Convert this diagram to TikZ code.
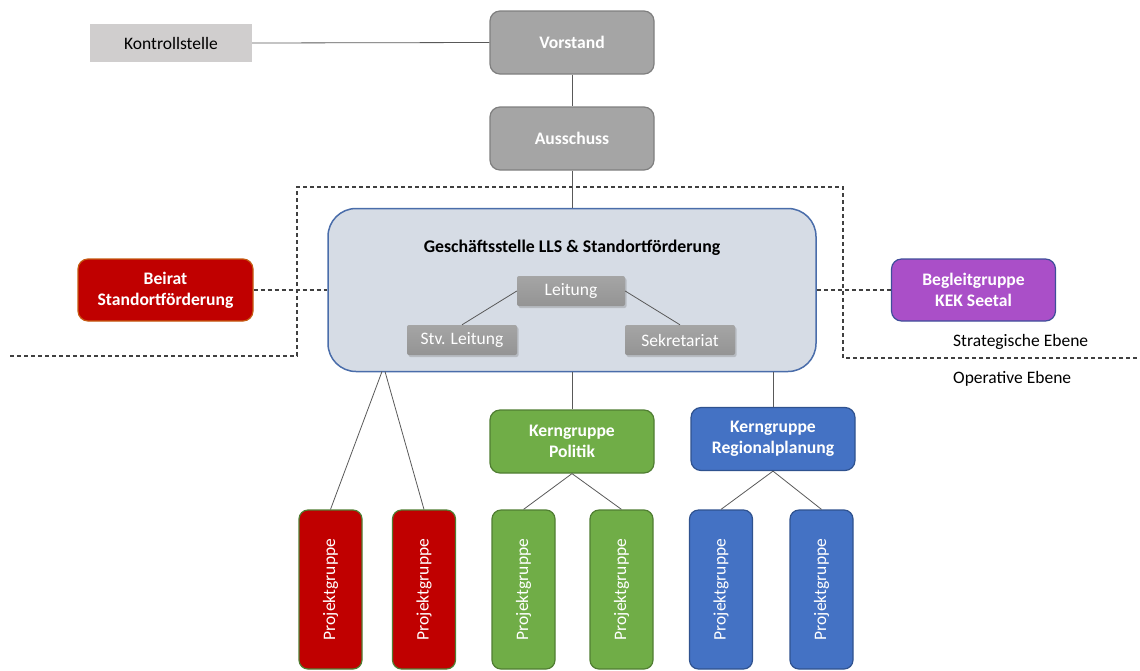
\documentclass[tikz,border=0pt]{standalone}
\usepackage{fontspec}
\setmainfont{Carlito}
\usetikzlibrary{shadows}
\definecolor{kongray}{HTML}{D0CECE}
\definecolor{topgray}{HTML}{A5A5A5}
\definecolor{topgrayline}{HTML}{7F7F7F}
\definecolor{gsfill}{HTML}{D6DCE5}
\definecolor{gsline}{HTML}{4A6DAA}
\definecolor{redfill}{HTML}{C00000}
\definecolor{redline}{HTML}{C55A11}
\definecolor{purplefill}{HTML}{AA4FC8}
\definecolor{purpleline}{HTML}{3F4E9A}
\definecolor{greenfill}{HTML}{70AD47}
\definecolor{greenline}{HTML}{507E32}
\definecolor{bluefill}{HTML}{4472C4}
\definecolor{blueline}{HTML}{2F528F}
\definecolor{conn}{HTML}{595959}
\definecolor{dashc}{HTML}{404040}
\tikzset{
  base/.style={font=\fontsize{17.5}{21}\selectfont, align=center, inner sep=0pt},
  kon/.style={base, fill=kongray, minimum width=162pt, minimum height=38pt},
  topbox/.style={base, font=\fontsize{17.6}{21}\selectfont\bfseries, text=white, fill=topgray, draw=topgrayline, line width=1.2pt, rounded corners=10pt, minimum width=164pt, minimum height=63pt},
  gsbox/.style={base, fill=gsfill, draw=gsline, line width=1.5pt, rounded corners=28pt, minimum width=488pt, minimum height=163pt},
  staff/.style={base, text=white, top color=topgray, bottom color=black!42, rounded corners=2pt, minimum height=30pt, drop shadow={opacity=0.35, shadow xshift=1.5pt, shadow yshift=-2pt}},
  colbox/.style={base, font=\fontsize{17.6}{21}\selectfont\bfseries, text=white, line width=1.2pt, rounded corners=10pt, minimum width=164pt, minimum height=63pt},
  pgbox/.style={base, text=white, line width=1.2pt, rounded corners=9pt, minimum width=63pt, minimum height=159pt},
  conline/.style={draw=conn, line width=0.8pt},
  dashline/.style={draw=dashc, line width=1.1pt, dash pattern=on 4pt off 3pt},
  level/.style={base, anchor=west}
}
\begin{document}
\begin{tikzpicture}[x=1pt, y=-1pt]
\useasboundingbox (0,0) rectangle (1140,670);
% dashed level boundary
\draw[dashline] (10,356) -- (297,356) -- (297,187) -- (843,187) -- (843,358) -- (1140,358);
% top
\node[kon] (kon) at (171,43) {Kontrollstelle};
\node[topbox] (vor) at (572,42.5) {Vorstand};
\node[topbox] (aus) at (572,138.5) {Ausschuss};
% office
\node[gsbox] (gs) at (572,290) {};
\node[base, font=\fontsize{17.8}{21}\selectfont\bfseries] (title) at (572,248) {Geschäftsstelle LLS \& Standortförderung};
\node[staff, minimum width=108pt] (lei) at (571,291) {Leitung};
\node[staff, minimum width=110pt] (stv) at (462,340) {Stv. Leitung};
\node[staff, minimum width=110pt] (sek) at (680,340) {Sekretariat};
% side groups
\node[colbox, fill=redfill, draw=redline, minimum width=175pt, minimum height=62pt] (bei) at (165.5,290) {Beirat\\Standortförderung};
\node[colbox, fill=purplefill, draw=purpleline, minimum height=62pt] (beg) at (973.5,290) {Begleitgruppe\\KEK Seetal};
% core groups
\node[colbox, fill=greenfill, draw=greenline] (kp) at (572,441.5) {Kerngruppe\\Politik};
\node[colbox, fill=bluefill, draw=blueline] (kr) at (773,439) {Kerngruppe\\Regionalplanung};
% project groups
\node[pgbox, fill=redfill, draw=greenline] (pg1) at (330.5,589.5) {\rotatebox{90}{Projektgruppe}};
\node[pgbox, fill=redfill, draw=greenline] (pg2) at (424,589.5) {\rotatebox{90}{Projektgruppe}};
\node[pgbox, fill=greenfill, draw=greenline] (pg3) at (523.5,589.5) {\rotatebox{90}{Projektgruppe}};
\node[pgbox, fill=greenfill, draw=greenline] (pg4) at (621.5,589.5) {\rotatebox{90}{Projektgruppe}};
\node[pgbox, fill=bluefill, draw=blueline] (pg5) at (721,589.5) {\rotatebox{90}{Projektgruppe}};
\node[pgbox, fill=bluefill, draw=blueline] (pg6) at (821.5,589.5) {\rotatebox{90}{Projektgruppe}};
% level labels
\node[level] (strat) at (953,342) {Strategische Ebene};
\node[level] (oper) at (953,379) {Operative Ebene};
% coordinates on office border
\coordinate (r1) at (382,371.5);
\coordinate (r2) at (385,371.5);
\coordinate (b1) at (773,371.5);
% connectors
\draw[conline] (kon.east) -- (vor.west);
\draw[conline] (vor.south) -- (aus.north);
\draw[conline] (aus.south) -- (gs.north);
\draw[conline] (lei.west) -- (stv.north);
\draw[conline] (lei.east) -- (sek.north);
\draw[conline] (r1) -- (pg1.north);
\draw[conline] (r2) -- (pg2.north);
\draw[conline] (gs.south) -- (kp.north);
\draw[conline] (b1) -- (kr.north);
\draw[conline] (kp.south) -- (pg3.north);
\draw[conline] (kp.south) -- (pg4.north);
\draw[conline] (kr.south) -- (pg5.north);
\draw[conline] (kr.south) -- (pg6.north);
\draw[dashline] (bei.east) -- (gs.west);
\draw[dashline] (gs.east) -- (beg.west);
\end{tikzpicture}
\end{document}
